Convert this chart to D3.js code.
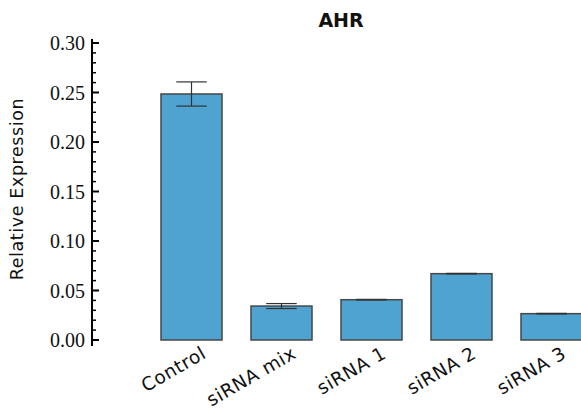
<!DOCTYPE html>
<html>
<head>
<meta charset="utf-8">
<script src="https://cdn.jsdelivr.net/npm/d3@7"></script>
<style>
  html, body { margin: 0; padding: 0; background: #fff; }
  svg { display: block; }
</style>
</head>
<body>
<svg id="chart" width="581" height="409"></svg>
<script>
// AHR relative expression per condition, mean and error half-width
const categories = ["Control", "siRNA mix", "siRNA 1", "siRNA 2", "siRNA 3"];
const means = [0.2485, 0.0343, 0.0407, 0.0670, 0.0266];
const errors = [0.0122, 0.0025, 0.0003, 0.0003, 0.0003];
const yTicks = [0.00, 0.05, 0.10, 0.15, 0.20, 0.25, 0.30];
const title = "AHR";
const yTitle = "Relative Expression";

const sans = "'DejaVu Sans', Verdana, sans-serif";
const svg = d3.select("#chart");

const x = d3.scaleBand()
  .domain(categories)
  .range([146.5, 596.5])
  .paddingInner(0.322)
  .paddingOuter(0.161);

const y = d3.scaleLinear()
  .domain([0, 0.30])
  .range([340, 43]);

// Bars
svg.append("g")
  .selectAll("rect")
  .data(categories)
  .join("rect")
  .attr("x", d => x(d))
  .attr("y", (d, i) => y(means[i]))
  .attr("width", x.bandwidth())
  .attr("height", (d, i) => y(0) - y(means[i]))
  .attr("fill", "#4ea3d0")
  .attr("stroke", "#474747")
  .attr("stroke-width", 1.5);

// Error bars
const eg = svg.append("g").attr("stroke", "#333").attr("stroke-width", 1.2);
categories.forEach((c, i) => {
  const cx = x(c) + x.bandwidth() / 2;
  const hw = x.bandwidth() / 4;
  const top = y(means[i] + errors[i]);
  const bot = y(means[i] - errors[i]);
  eg.append("line").attr("x1", cx).attr("x2", cx).attr("y1", top).attr("y2", bot);
  eg.append("line").attr("x1", cx - hw).attr("x2", cx + hw).attr("y1", top).attr("y2", top);
  eg.append("line").attr("x1", cx - hw).attr("x2", cx + hw).attr("y1", bot).attr("y2", bot);
});

// Y axis: major ticks with labels, minor ticks every 0.01, pointing inward
const axisX = 92;
const minor = d3.range(0, 0.3001, 0.01).filter(v => Math.round(v * 100) % 5 !== 0);
const ag = svg.append("g");
ag.append("line")
  .attr("x1", axisX).attr("x2", axisX)
  .attr("y1", y(0) + 6).attr("y2", y(0.30) - 4)
  .attr("stroke", "#000").attr("stroke-width", 2);
ag.selectAll(".major")
  .data(yTicks)
  .join("line")
  .attr("x1", axisX).attr("x2", axisX + 7)
  .attr("y1", d => y(d)).attr("y2", d => y(d))
  .attr("stroke", "#000").attr("stroke-width", 2);
ag.selectAll(".minor")
  .data(minor)
  .join("line")
  .attr("x1", axisX).attr("x2", axisX + 4)
  .attr("y1", d => y(d)).attr("y2", d => y(d))
  .attr("stroke", "#000").attr("stroke-width", 1.5);
ag.selectAll("text")
  .data(yTicks)
  .join("text")
  .attr("x", axisX - 7)
  .attr("y", d => y(d))
  .attr("dy", "0.35em")
  .attr("text-anchor", "end")
  .attr("font-family", "'Liberation Serif', 'Times New Roman', serif")
  .attr("font-size", 20)
  .attr("fill", "#111")
  .text(d => d.toFixed(2));

// X category labels, rotated
svg.append("g")
  .selectAll("text")
  .data(categories)
  .join("text")
  .attr("transform", d => `translate(${x(d) + x.bandwidth() / 2 + 16},${357}) rotate(-30)`)
  .attr("text-anchor", "end")
  .attr("font-family", sans)
  .attr("font-size", 18.5)
  .attr("letter-spacing", 0.6)
  .attr("fill", "#111")
  .text(d => d);

// Title
svg.append("text")
  .attr("x", 341)
  .attr("y", 27)
  .attr("text-anchor", "middle")
  .attr("font-family", sans)
  .attr("font-weight", "bold")
  .attr("font-size", 19)
  .attr("fill", "#111")
  .text(title);

// Y axis title
svg.append("text")
  .attr("transform", "translate(23,189) rotate(-90)")
  .attr("text-anchor", "middle")
  .attr("font-family", sans)
  .attr("font-size", 17.5)
  .attr("letter-spacing", 0.6)
  .attr("fill", "#111")
  .text(yTitle);
</script>
</body>
</html>
